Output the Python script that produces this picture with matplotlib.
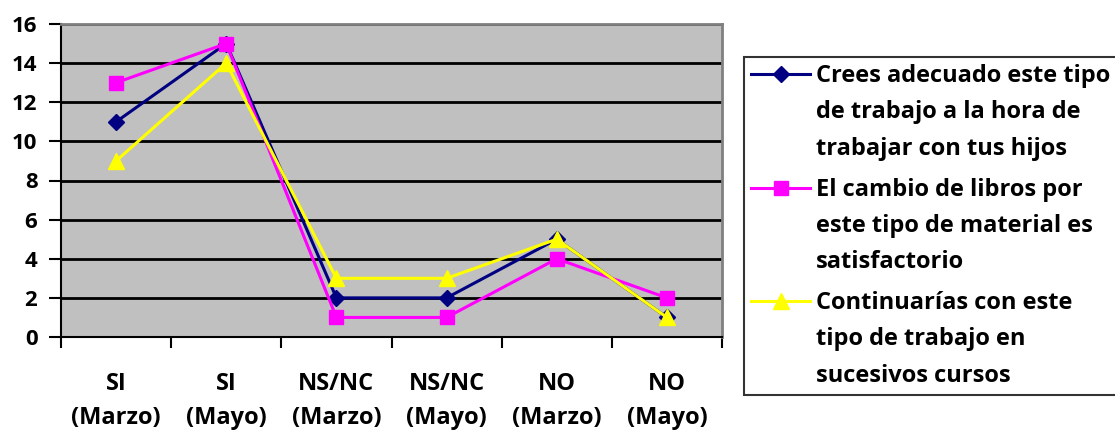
import numpy as np
import matplotlib.pyplot as plt
from matplotlib.legend_handler import HandlerLine2D

# Datos de la encuesta
categorias = ['SI\n(Marzo)', 'SI\n(Mayo)', 'NS/NC\n(Marzo)', 'NS/NC\n(Mayo)', 'NO\n(Marzo)', 'NO\n(Mayo)']
adecuado = [11, 15, 2, 2, 5, 1]
cambio_libros = [13, 15, 1, 1, 4, 2]
continuarias = [9, 14, 3, 3, 5, 1]

etiquetas = ['Crees adecuado este tipo\nde trabajo a la hora de\ntrabajar con tus hijos',
             'El cambio de libros por\neste tipo de material es\nsatisfactorio',
             'Continuarías con este\ntipo de trabajo en\nsucesivos cursos']

plt.rcParams['font.family'] = ['Open Sans', 'Noto Sans', 'DejaVu Sans']
plt.rcParams['font.weight'] = 'bold'

LEG_FS = 17
LEG_LS = 1.68
SUBIR = 28  # puntos


# el simbolo de la leyenda va alineado con la primera linea, como en Excel
class HandlerArriba(HandlerLine2D):
    def create_artists(self, legend, orig_handle, xdescent, ydescent,
                       width, height, fontsize, trans):
        arts = super().create_artists(legend, orig_handle, xdescent, ydescent,
                                      width, height, fontsize, trans)
        for a in arts:
            a.set_ydata(np.asarray(a.get_ydata()) + SUBIR)
        return arts


fig = plt.figure(figsize=(11.15, 4.33), dpi=100)
ax = fig.add_axes([61 / 1115, 96 / 433, 661 / 1115, 313 / 433])
ax.set_facecolor('#C0C0C0')

x = np.arange(len(categorias)) + 0.5
ax.plot(x, adecuado, color='#000080', lw=2.2, marker='D', ms=8, label=etiquetas[0])
ax.plot(x, cambio_libros, color='#FF00FF', lw=2.2, marker='s', ms=10, label=etiquetas[1])
ax.plot(x, continuarias, color='#FFFF00', lw=2.2, marker='^', ms=11, label=etiquetas[2])

ax.set_xlim(0, len(categorias))
ax.set_ylim(0, 16)
ax.set_yticks(range(0, 17, 2))
ax.set_xticks(range(len(categorias) + 1))
ax.set_xticklabels([])
ax.set_xticks(x, minor=True)
ax.set_xticklabels(categorias, minor=True, fontsize=17, fontweight='bold', linespacing=1.55)
ax.tick_params(axis='x', which='minor', length=0, pad=25)
ax.tick_params(axis='x', which='major', length=8, width=1.5, direction='out')
ax.tick_params(axis='y', length=9, width=1.5, direction='out', labelsize=16, pad=8)
for lab in ax.get_yticklabels():
    lab.set_fontweight('bold')

ax.grid(axis='y', color='black', lw=2)
ax.set_axisbelow(True)
for s in ['top', 'right']:
    ax.spines[s].set_color('#808080')
    ax.spines[s].set_linewidth(2)
for s in ['left', 'bottom']:
    ax.spines[s].set_color('black')
    ax.spines[s].set_linewidth(1.5)

leg = fig.legend(loc='upper left', bbox_to_anchor=(744 / 1115, 44 / 433, 0.36, 332 / 433),
                 mode='expand', frameon=True, fancybox=False, edgecolor='black',
                 handlelength=2.5, handletextpad=0.25, labelspacing=0.72,
                 borderpad=0.3, borderaxespad=0,
                 handler_map={ax.lines[0]: HandlerArriba(), ax.lines[1]: HandlerArriba(),
                              ax.lines[2]: HandlerArriba()},
                 prop={'weight': 'bold', 'size': LEG_FS})
leg.get_frame().set_linewidth(1.5)
for t in leg.get_texts():
    t.set_linespacing(LEG_LS)

fig.savefig('out.png', dpi=100)
